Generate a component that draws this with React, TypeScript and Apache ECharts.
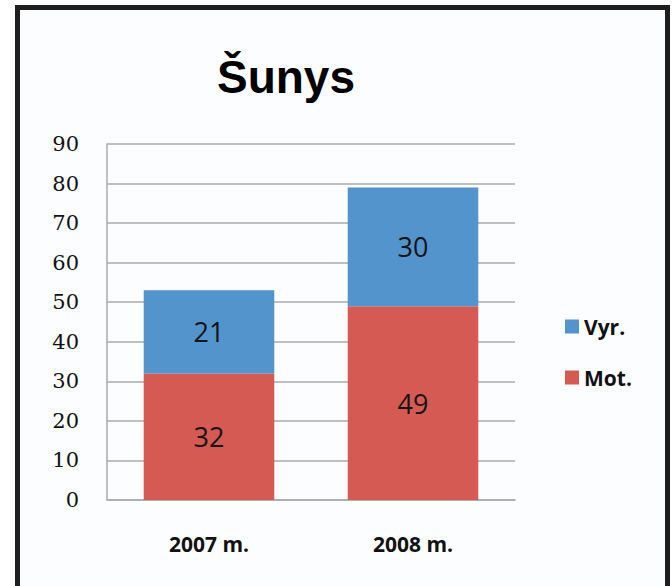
import React, { useEffect, useRef } from "react";
import * as echarts from "echarts";

const categories = ["2007 m.", "2008 m."];
const motValues = [32, 49];
const vyrValues = [21, 30];
const seriesNames = ["Mot.", "Vyr."];
const legendOrder = ["Vyr.", "Mot."];
const titleText = "Šunys";

export default function App() {
  const ref = useRef<HTMLDivElement>(null);
  useEffect(() => {
    if (!ref.current) return;
    const chart = echarts.init(ref.current, null, { renderer: "svg" });
    const labelStyle = {
      show: true,
      position: "inside",
      color: "#151515",
      fontSize: 27,
      fontFamily: "Open Sans",
    };
    chart.setOption({
      animation: false,
      backgroundColor: "#ffffff",
      graphic: [
        {
          type: "rect",
          z: -10,
          shape: { x: 17.5, y: 7.5, width: 650, height: 620 },
          style: { fill: "#fcfdfe", stroke: "#1e1e1e", lineWidth: 5 },
        },
      ],
      title: {
        text: titleText,
        left: 281,
        top: 72,
        textAlign: "center",
        textVerticalAlign: "middle",
        textStyle: {
          fontFamily: "Liberation Sans",
          fontWeight: "bold",
          fontSize: 46,
          color: "#000000",
        },
      },
      legend: {
        data: legendOrder,
        orient: "vertical",
        left: 560,
        top: 311,
        itemWidth: 14,
        itemHeight: 14,
        itemGap: 30,
        icon: "rect",
        textStyle: {
          fontFamily: "Open Sans",
          fontWeight: "bold",
          fontSize: 21,
          lineHeight: 20,
          color: "#111111",
        },
      },
      grid: { left: 107, right: 157, top: 144, bottom: 86, containLabel: false },
      xAxis: {
        type: "category",
        data: categories,
        axisLine: { show: true, lineStyle: { color: "#aaaaaa", width: 1.5 } },
        axisTick: { show: false },
        axisLabel: {
          margin: 33,
          fontFamily: "Open Sans",
          fontWeight: "bold",
          fontSize: 21,
          lineHeight: 22,
          color: "#111111",
        },
      },
      yAxis: {
        type: "value",
        min: 0,
        max: 90,
        interval: 10,
        axisLine: { show: true, lineStyle: { color: "#aaaaaa", width: 1.5 } },
        axisTick: { show: false },
        splitLine: { show: true, lineStyle: { color: "#aaaaaa", width: 1.5 } },
        axisLabel: {
          margin: 28,
          fontFamily: "DejaVu Serif",
          fontSize: 21,
          color: "#111111",
        },
      },
      series: [
        {
          name: seriesNames[0],
          type: "bar",
          stack: "total",
          data: motValues,
          barWidth: "64%",
          itemStyle: { color: "#d65a54" },
          label: labelStyle,
        },
        {
          name: seriesNames[1],
          type: "bar",
          stack: "total",
          data: vyrValues,
          barWidth: "64%",
          itemStyle: { color: "#5294cb" },
          label: labelStyle,
        },
      ],
    });
    return () => chart.dispose();
  }, []);
  return (
    <div
      ref={ref}
      style={{ position: "fixed", left: 0, top: 0, width: 672, height: 586 }}
    />
  );
}
